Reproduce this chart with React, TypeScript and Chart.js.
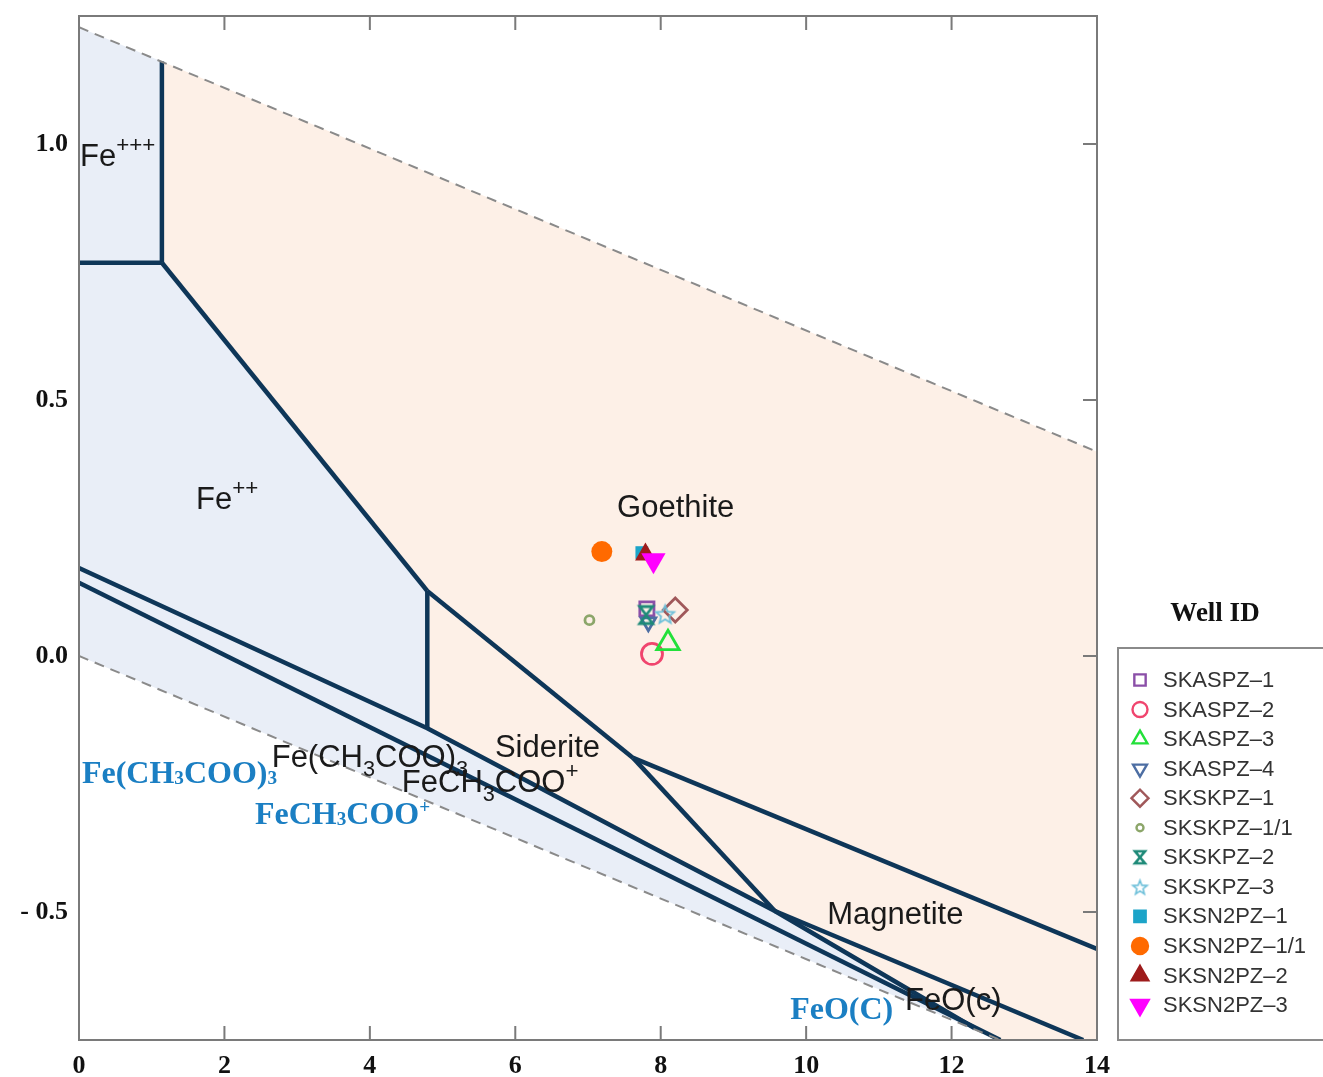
import React, { useEffect, useRef } from 'react';
import { Chart, registerables } from 'chart.js';
import { drawPoint } from 'chart.js/helpers';

Chart.register(...registerables);

// ---------------- axes ----------------
const xTicks = [0, 2, 4, 6, 8, 10, 12, 14];
const yTicks = [-0.5, 0, 0.5, 1.0];
const yTickLabels = ['- 0.5', '0.0', '0.5', '1.0'];

// ---------------- wells (pH, Eh) ----------------
const wellIds = ['SKASPZ–1', 'SKASPZ–2', 'SKASPZ–3', 'SKASPZ–4', 'SKSKPZ–1', 'SKSKPZ–1/1', 'SKSKPZ–2', 'SKSKPZ–3', 'SKSN2PZ–1', 'SKSN2PZ–1/1', 'SKSN2PZ–2', 'SKSN2PZ–3'];
const wellPH = [7.81, 7.88, 8.10, 7.83, 8.20, 7.02, 7.80, 8.06, 7.74, 7.19, 7.79, 7.90];
const wellEh = [0.092, 0.004, 0.025, 0.066, 0.090, 0.070, 0.080, 0.082, 0.202, 0.204, 0.198, 0.187];

// marker styles
const wellShapes = ['rect', 'circle', 'triangle', 'triangleDown', 'rectRot', 'circle', 'hourglass', 'star', 'rect', 'circle', 'triangle', 'triangleDown'];
const wellColors = ['#8b4fa8', '#f0456e', '#22e03a', '#4d6ea3', '#a0585a', '#8ca66a', '#1e8a78', '#6bbfd9', '#1ca4c8', '#ff6a00', '#9e1b1b', '#ff00ff'];
const wellFilled = [false, false, false, false, false, false, false, false, true, true, true, true];
const wellRadius = [10, 10.5, 13, 8.5, 12, 4.5, 8, 9, 9, 10.5, 12, 14];
const wellLegendRadius = [8, 7.5, 8.5, 8, 8.5, 3.5, 6, 7, 8, 8, 9.5, 10];

// ---------------- stability field boundaries (pH, Eh) ----------------
const waterUpperPH = [0, 14];
const waterUpperEh = [1.228, 0.399];
const waterLowerPH = [0, 14];
const waterLowerEh = [0, -0.829];

const fe3Fe2PH = [0, 1.14];
const fe3Fe2Eh = [0.768, 0.768];
const fe3GoethitePH = [1.14, 1.14];
const fe3GoethiteEh = [0.768, 1.161];
const fe2GoethitePH = [1.14, 4.79];
const fe2GoethiteEh = [0.768, 0.127];
const fe2SideritePH = [4.79, 4.79];
const fe2SideriteEh = [0.127, -0.141];
const goethiteSideritePH = [4.79, 7.62];
const goethiteSideriteEh = [0.127, -0.199];
const goethiteMagnetitePH = [7.62, 14];
const goethiteMagnetiteEh = [-0.199, -0.572];
const sideriteMagnetitePH = [7.62, 9.57];
const sideriteMagnetiteEh = [-0.199, -0.498];
const magnetiteFeOPH = [9.57, 13.81];
const magnetiteFeOEh = [-0.498, -0.75];
const acetateUpperPH = [0, 4.79, 7.85, 9.57, 12.32];
const acetateUpperEh = [0.172, -0.141, -0.371, -0.498, -0.727];
const acetateLowerPH = [0, 12.67];
const acetateLowerEh = [0.143, -0.75];

// filled fields
const aqueousFieldPH = [0, 1.14, 1.14, 4.79, 4.79, 7.85, 9.57, 12.32, 12.67, 0];
const aqueousFieldEh = [1.228, 1.161, 0.768, 0.127, -0.141, -0.371, -0.498, -0.727, -0.75, 0];
const solidFieldPH = [1.14, 14, 14, 12.67, 12.32, 9.57, 7.85, 4.79, 4.79, 1.14];
const solidFieldEh = [1.161, 0.399, -0.75, -0.75, -0.727, -0.498, -0.371, -0.141, 0.127, 0.768];

// ---------------- annotations ----------------
type Part = [string, string];
const phaseLabels: { parts: Part[]; x: number; y: number; kind: string }[] = [
  { parts: [['Fe', ''], ['+++', 'sup']], x: 0.014, y: 0.957, kind: 'black' },
  { parts: [['Fe', ''], ['++', 'sup']], x: 1.61, y: 0.287, kind: 'black' },
  { parts: [['Goethite', '']], x: 7.40, y: 0.271, kind: 'black' },
  { parts: [['Siderite', '']], x: 5.72, y: -0.197, kind: 'black' },
  { parts: [['Magnetite', '']], x: 10.29, y: -0.523, kind: 'black' },
  { parts: [['Fe(CH', ''], ['3', 'sub'], ['COO)', ''], ['3', 'sub']], x: 2.65, y: -0.217, kind: 'black' },
  { parts: [['FeCH', ''], ['3', 'sub'], ['COO', ''], ['+', 'sup']], x: 4.44, y: -0.266, kind: 'black' },
  { parts: [['FeO(c)', '']], x: 11.36, y: -0.691, kind: 'black' },
  { parts: [['Fe(CH', ''], ['3', 'small'], ['COO)', ''], ['3', 'small']], x: 0.04, y: -0.248, kind: 'blue' },
  { parts: [['FeCH', ''], ['3', 'small'], ['COO', ''], ['+', 'smallsup']], x: 2.42, y: -0.328, kind: 'blue' },
  { parts: [['FeO(C)', '']], x: 9.78, y: -0.709, kind: 'blue' },
];

const NAVY = '#0e3658';
const SANS = '"Liberation Sans", Arial, sans-serif';
const SERIF = '"Liberation Serif", "Times New Roman", serif';

function pts(xs: number[], ys: number[]) {
  return xs.map((x, i) => ({ x, y: ys[i] }));
}

function makeHourglass(color: string, w: number, h: number, lw: number) {
  const c = document.createElement('canvas');
  c.width = Math.ceil(2 * w + 2 * lw + 2);
  c.height = Math.ceil(2 * h + 2 * lw + 2);
  const g = c.getContext('2d')!;
  g.translate(c.width / 2, c.height / 2);
  g.strokeStyle = color;
  g.lineWidth = lw;
  g.lineJoin = 'miter';
  g.beginPath();
  g.moveTo(-w, -h);
  g.lineTo(w, -h);
  g.lineTo(-w, h);
  g.lineTo(w, h);
  g.closePath();
  g.stroke();
  return c;
}

function makeStar(color: string, R: number, r: number, lw: number) {
  const c = document.createElement('canvas');
  c.width = Math.ceil(2 * R + 2 * lw + 2);
  c.height = Math.ceil(2 * R + 2 * lw + 2);
  const g = c.getContext('2d')!;
  g.translate(c.width / 2, c.height / 2 + 1);
  g.strokeStyle = color;
  g.lineWidth = lw;
  g.lineJoin = 'miter';
  g.beginPath();
  for (let i = 0; i < 10; i++) {
    const rad = (Math.PI / 5) * i;
    const rr = i % 2 === 0 ? R : r;
    const px = Math.sin(rad) * rr;
    const py = -Math.cos(rad) * rr;
    if (i === 0) g.moveTo(px, py);
    else g.lineTo(px, py);
  }
  g.closePath();
  g.stroke();
  return c;
}

function markerStyle(i: number, legend: boolean): { style: any; rotation: number } {
  const s = wellShapes[i];
  if (s === 'hourglass') return { style: legend ? makeHourglass(wellColors[i], 5, 6, 2.6) : makeHourglass(wellColors[i], 6.5, 8.5, 2.8), rotation: 0 };
  if (s === 'star') return { style: legend ? makeStar(wellColors[i], 7.5, 3.2, 1.6) : makeStar(wellColors[i], 9.5, 4.2, 1.8), rotation: 0 };
  if (s === 'triangleDown') return { style: 'triangle', rotation: 180 };
  return { style: s, rotation: 0 };
}

function drawRich(ctx: CanvasRenderingContext2D, parts: Part[], x: number, y: number, kind: string) {
  const blue = kind === 'blue';
  const size = blue ? 32 : 31;
  const family = blue ? SERIF : SANS;
  const weight = blue ? 'bold' : 'normal';
  ctx.fillStyle = blue ? '#1b7fc3' : '#1a1a1a';
  ctx.textBaseline = 'alphabetic';
  ctx.textAlign = 'left';
  let cx = x;
  for (const [t, k] of parts) {
    let s = size;
    let dy = 0;
    if (k === 'sup') { s = size * 0.72; dy = -size * 0.45; }
    else if (k === 'sub') { s = size * 0.7; dy = size * 0.3; }
    else if (k === 'small') { s = size * 0.6; dy = size * 0.03; }
    else if (k === 'smallsup') { s = size * 0.6; dy = -size * 0.35; }
    ctx.font = `${weight} ${s}px ${family}`;
    ctx.fillText(t, cx, y + dy);
    cx += ctx.measureText(t).width;
  }
}

const overlayPlugin = {
  id: 'overlay',
  afterDatasetsDraw(chart: any) {
    const { ctx, chartArea: a, scales } = chart;
    const xs = scales.x;
    const ys = scales.y;
    ctx.save();
    for (const l of phaseLabels) {
      drawRich(ctx, l.parts, xs.getPixelForValue(l.x), ys.getPixelForValue(l.y), l.kind);
    }
    ctx.strokeStyle = '#7a7a7a';
    ctx.lineWidth = 2;
    ctx.setLineDash([]);
    ctx.strokeRect(a.left, a.top, a.right - a.left, a.bottom - a.top);
    ctx.beginPath();
    for (const t of xs.ticks) {
      if (t.value <= 0 || t.value >= 14) continue;
      const px = xs.getPixelForValue(t.value);
      ctx.moveTo(px, a.bottom);
      ctx.lineTo(px, a.bottom - 14);
      ctx.moveTo(px, a.top);
      ctx.lineTo(px, a.top + 14);
    }
    for (const t of ys.ticks) {
      const py = ys.getPixelForValue(t.value);
      ctx.moveTo(a.right, py);
      ctx.lineTo(a.right - 14, py);
    }
    ctx.stroke();
    ctx.restore();
  },
  afterDraw(chart: any) {
    const { ctx } = chart;
    ctx.save();
    ctx.strokeStyle = '#8a8a8a';
    ctx.lineWidth = 2;
    ctx.strokeRect(1118, 648, 260, 392);
    ctx.fillStyle = '#111';
    ctx.font = `bold 27px ${SERIF}`;
    ctx.textAlign = 'center';
    ctx.textBaseline = 'middle';
    ctx.fillText('Well ID', 1215, 614);
    for (let i = 0; i < wellIds.length; i++) {
      const cy = 680 + i * 29.55;
      const m = markerStyle(i, true);
      ctx.fillStyle = wellFilled[i] ? wellColors[i] : 'rgba(0,0,0,0)';
      ctx.strokeStyle = wellColors[i];
      ctx.lineWidth = 2.4;
      drawPoint(ctx, { pointStyle: m.style, rotation: m.rotation, radius: wellLegendRadius[i], borderWidth: 2.4 } as any, 1140, cy);
      ctx.fillStyle = '#333';
      ctx.font = `22px ${SANS}`;
      ctx.textAlign = 'left';
      ctx.textBaseline = 'middle';
      ctx.fillText(wellIds[i], 1163, cy + 1);
    }
    ctx.restore();
  },
};

function lineDs(xs: number[], ys: number[], dashed = false) {
  return {
    type: 'scatter' as const,
    data: pts(xs, ys),
    showLine: true,
    borderColor: dashed ? '#8a8a8a' : NAVY,
    borderWidth: dashed ? 2 : 4.5,
    borderDash: dashed ? [10, 7] : [],
    borderJoinStyle: 'miter' as const,
    pointRadius: 0,
    fill: false,
    tension: 0,
    order: 5,
  };
}

function fieldDs(xs: number[], ys: number[], color: string) {
  return {
    type: 'scatter' as const,
    data: pts(xs, ys),
    showLine: true,
    borderColor: 'rgba(0,0,0,0)',
    borderWidth: 0,
    backgroundColor: color,
    fill: 'shape',
    pointRadius: 0,
    tension: 0,
    order: 10,
  };
}

const zeroPad = (s: any) => {
  s.paddingTop = 0;
  s.paddingBottom = 0;
  s.paddingLeft = 0;
  s.paddingRight = 0;
};

export default function App() {
  const ref = useRef<HTMLCanvasElement>(null);
  useEffect(() => {
    const pointSets = wellIds.map((id, i) => {
      const m = markerStyle(i, false);
      return {
        type: 'scatter' as const,
        label: id,
        data: [{ x: wellPH[i], y: wellEh[i] }],
        pointStyle: m.style,
        pointRotation: m.rotation,
        pointRadius: wellRadius[i],
        pointBackgroundColor: wellFilled[i] ? wellColors[i] : 'rgba(0,0,0,0)',
        pointBorderColor: wellColors[i],
        pointBorderWidth: wellFilled[i] ? 0 : 2.8,
        showLine: false,
        order: -i,
      };
    });
    const datasets: any[] = [
      fieldDs(aqueousFieldPH, aqueousFieldEh, '#e9eef7'),
      fieldDs(solidFieldPH, solidFieldEh, '#fdf0e7'),
      lineDs(waterUpperPH, waterUpperEh, true),
      lineDs(waterLowerPH, waterLowerEh, true),
      lineDs(fe3Fe2PH, fe3Fe2Eh),
      lineDs(fe3GoethitePH, fe3GoethiteEh),
      lineDs(fe2GoethitePH, fe2GoethiteEh),
      lineDs(fe2SideritePH, fe2SideriteEh),
      lineDs(goethiteSideritePH, goethiteSideriteEh),
      lineDs(goethiteMagnetitePH, goethiteMagnetiteEh),
      lineDs(sideriteMagnetitePH, sideriteMagnetiteEh),
      lineDs(magnetiteFeOPH, magnetiteFeOEh),
      lineDs(acetateUpperPH, acetateUpperEh),
      lineDs(acetateLowerPH, acetateLowerEh),
      ...pointSets,
    ];
    const chart = new Chart(ref.current!, {
      type: 'scatter',
      data: { datasets },
      options: {
        animation: false,
        responsive: false,
        devicePixelRatio: 1,
        events: [],
        layout: { padding: { left: 0, right: 226, top: 16, bottom: 0 } },
        plugins: { legend: { display: false }, tooltip: { enabled: false } },
        scales: {
          x: {
            type: 'linear',
            position: 'bottom',
            min: 0,
            max: 14,
            grid: { display: false, drawTicks: false },
            border: { display: false },
            afterBuildTicks: (s: any) => { s.ticks = xTicks.map((v) => ({ value: v })); },
            afterFit: (s: any) => { s.height = 37; zeroPad(s); },
            ticks: {
              padding: 11,
              color: '#111',
              font: { family: SERIF, weight: 'bold', size: 26, lineHeight: 1.2 },
              callback: (v: any) => String(v),
            },
          },
          y: {
            type: 'linear',
            position: 'left',
            min: -0.75,
            max: 1.25,
            grid: { display: false, drawTicks: false },
            border: { display: false },
            afterBuildTicks: (s: any) => { s.ticks = yTicks.map((v) => ({ value: v })); },
            afterFit: (s: any) => { s.width = 79; zeroPad(s); },
            ticks: {
              padding: 11,
              color: '#111',
              font: { family: SERIF, weight: 'bold', size: 26 },
              callback: (v: any) => yTickLabels[yTicks.indexOf(v)] ?? '',
            },
          },
        },
      } as any,
      plugins: [overlayPlugin],
    });
    return () => chart.destroy();
  }, []);
  return (
    <div style={{ position: 'absolute', left: 0, top: 0, width: 1323, height: 1077, background: '#fff' }}>
      <canvas ref={ref} width={1323} height={1077} style={{ display: 'block', width: 1323, height: 1077 }} />
    </div>
  );
}
